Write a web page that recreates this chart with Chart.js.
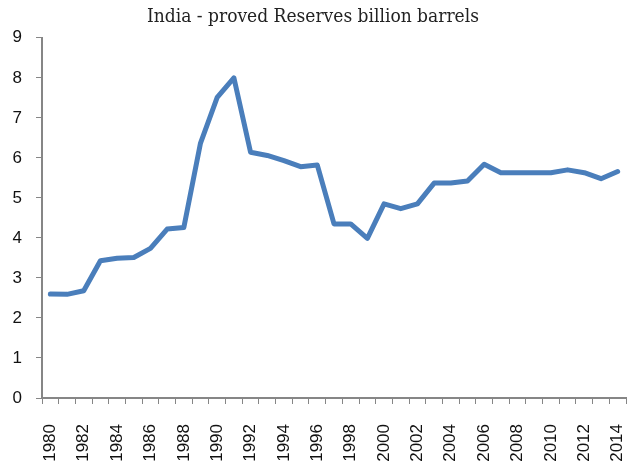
<!DOCTYPE html>
<html>
<head>
<meta charset="utf-8">
<script src="https://cdn.jsdelivr.net/npm/chart.js@4"></script>
<style>
  html, body { margin: 0; padding: 0; background: #fff; }
  #wrap { width: 630px; height: 462px; }
</style>
</head>
<body>
<div id="wrap"><canvas id="chart"></canvas></div>
<script>
// years on the category axis
const years = ['1980', '1981', '1982', '1983', '1984', '1985', '1986', '1987', '1988', '1989',
  '1990', '1991', '1992', '1993', '1994', '1995', '1996', '1997', '1998', '1999',
  '2000', '2001', '2002', '2003', '2004', '2005', '2006', '2007', '2008', '2009',
  '2010', '2011', '2012', '2013', '2014'];

// proved reserves, billion barrels
const reserves = [2.6, 2.59, 2.68, 3.43, 3.49, 3.51, 3.74, 4.22, 4.26, 6.37,
  7.51, 8.0, 6.14, 6.06, 5.93, 5.78, 5.82, 4.35, 4.35, 3.99,
  4.85, 4.73, 4.85, 5.37, 5.37, 5.42, 5.84, 5.63, 5.63, 5.63,
  5.63, 5.7, 5.63, 5.48, 5.66];

const yTicks = [0, 1, 2, 3, 4, 5, 6, 7, 8, 9];

const axisGrey = '#868686';
const labelFont = { family: 'Liberation Sans', size: 17 };

const config = {
  type: 'line',
  data: {
    labels: years,
    datasets: [{
      label: 'India',
      data: reserves,
      borderColor: '#4a7ebb',
      borderWidth: 5,
      pointRadius: 0,
      tension: 0,
      borderJoinStyle: 'round',
      borderCapStyle: 'round',
    }]
  },
  options: {
    responsive: true,
    maintainAspectRatio: false,
    animation: false,
    layout: {
      padding: { left: 0, right: 4, top: 0, bottom: 0 }
    },
    scales: {
      x: {
        offset: true,
        afterFit: function (axis) {
          // fixed band under the plot, no extra room for the last label
          axis.height = 64;
          axis.paddingRight = 0;
          axis.paddingLeft = 0;
        },
        grid: {
          offset: true,
          drawOnChartArea: false,
          drawTicks: true,
          tickLength: 6,
          color: axisGrey,
        },
        border: { display: true, color: axisGrey, width: 2 },
        ticks: {
          autoSkip: false,
          maxRotation: 90,
          minRotation: 90,
          color: '#111',
          font: labelFont,
          padding: 20,
          callback: function (value, index) {
            return index % 2 === 0 ? years[index] : '';
          },
        },
      },
      y: {
        min: 0,
        max: 9,
        afterBuildTicks: function (axis) {
          axis.ticks = yTicks.map(v => ({ value: v }));
        },
        afterFit: function (axis) {
          axis.width = 42;
        },
        grid: {
          drawOnChartArea: false,
          drawTicks: true,
          tickLength: 6,
          color: axisGrey,
        },
        border: { display: true, color: axisGrey, width: 2 },
        ticks: {
          color: '#111',
          font: labelFont,
          padding: 14,
        },
      },
    },
    plugins: {
      legend: { display: false },
      tooltip: { enabled: false },
      title: {
        display: true,
        text: 'India - proved Reserves billion barrels',
        color: '#222',
        font: { family: "'DejaVu Serif Condensed', 'DejaVu Serif'", size: 19, weight: 'normal' },
        padding: { top: 6, bottom: 9 },
      },
    },
  },
};

const myChart = new Chart(document.getElementById('chart'), config);
</script>
</body>
</html>
